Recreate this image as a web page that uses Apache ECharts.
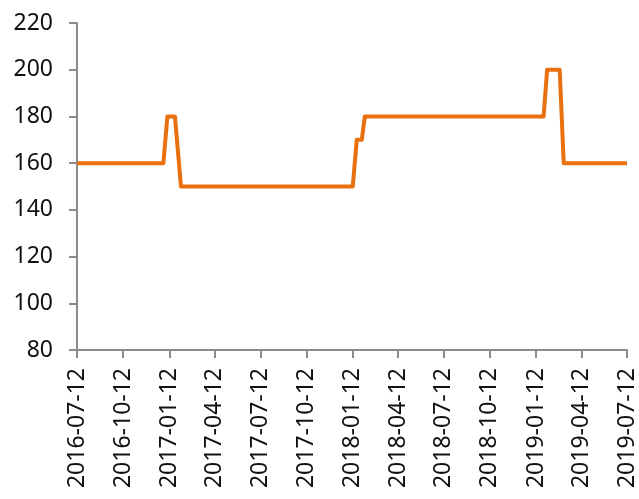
<!DOCTYPE html>
<html>
<head>
<meta charset="utf-8">
<script src="https://cdn.jsdelivr.net/npm/echarts@6/dist/echarts.min.js"></script>
<style>html,body{margin:0;padding:0;background:#fff}#c{width:639px;height:499px}</style>
</head>
<body>
<div id="c"></div>
<script>
var tickDates = ['2016-07-12','2016-10-12','2017-01-12','2017-04-12','2017-07-12','2017-10-12','2018-01-12','2018-04-12','2018-07-12','2018-10-12','2019-01-12','2019-04-12','2019-07-12'];
var dates = ['2016-07-12','2016-12-31','2017-01-08','2017-01-23','2017-02-04','2018-01-12','2018-01-20','2018-01-30','2018-02-05','2019-01-27','2019-02-03','2019-02-28','2019-03-08','2019-07-12'];
var values = [160,160,180,180,150,150,170,170,180,180,200,200,160,160];

function ts(s){var p=s.split('-');return Date.UTC(+p[0],+p[1]-1,+p[2]);}
function fmt(v){var d=new Date(v);var m=d.getUTCMonth()+1,dd=d.getUTCDate();return d.getUTCFullYear()+'-'+(m<10?'0':'')+m+'-'+(dd<10?'0':'')+dd;}

var chart = echarts.init(document.getElementById('c'));
var font = 'Noto Sans';
var tickTs = tickDates.map(ts);
chart.setOption({
  animation:false,
  grid:{left:77,right:12,top:23,bottom:149,containLabel:false},
  xAxis:{
    type:'value',
    min:tickTs[0], max:tickTs[tickTs.length-1],
    axisLine:{lineStyle:{color:'#8c8c8c',width:2}},
    axisTick:{show:true,length:8,lineStyle:{color:'#8c8c8c',width:2},customValues:tickTs},
    axisLabel:{rotate:90,customValues:tickTs,formatter:function(v){return fmt(v);},color:'#111',fontSize:23,fontFamily:font,margin:18,hideOverlap:false},
    splitLine:{show:false}
  },
  yAxis:{
    type:'value',min:80,max:220,interval:20,
    axisLine:{show:true,lineStyle:{color:'#8c8c8c',width:2}},
    axisTick:{show:true,length:8,lineStyle:{color:'#8c8c8c',width:2}},
    axisLabel:{color:'#111',fontSize:23,fontFamily:font,margin:24},
    splitLine:{show:false}
  },
  series:[{
    type:'line',
    data:dates.map(function(d,i){return [ts(d),values[i]];}),
    showSymbol:false,
    lineStyle:{color:'#E8700E',width:4,join:'round'},
    itemStyle:{color:'#E8700E'}
  }]
});
</script>
</body>
</html>
